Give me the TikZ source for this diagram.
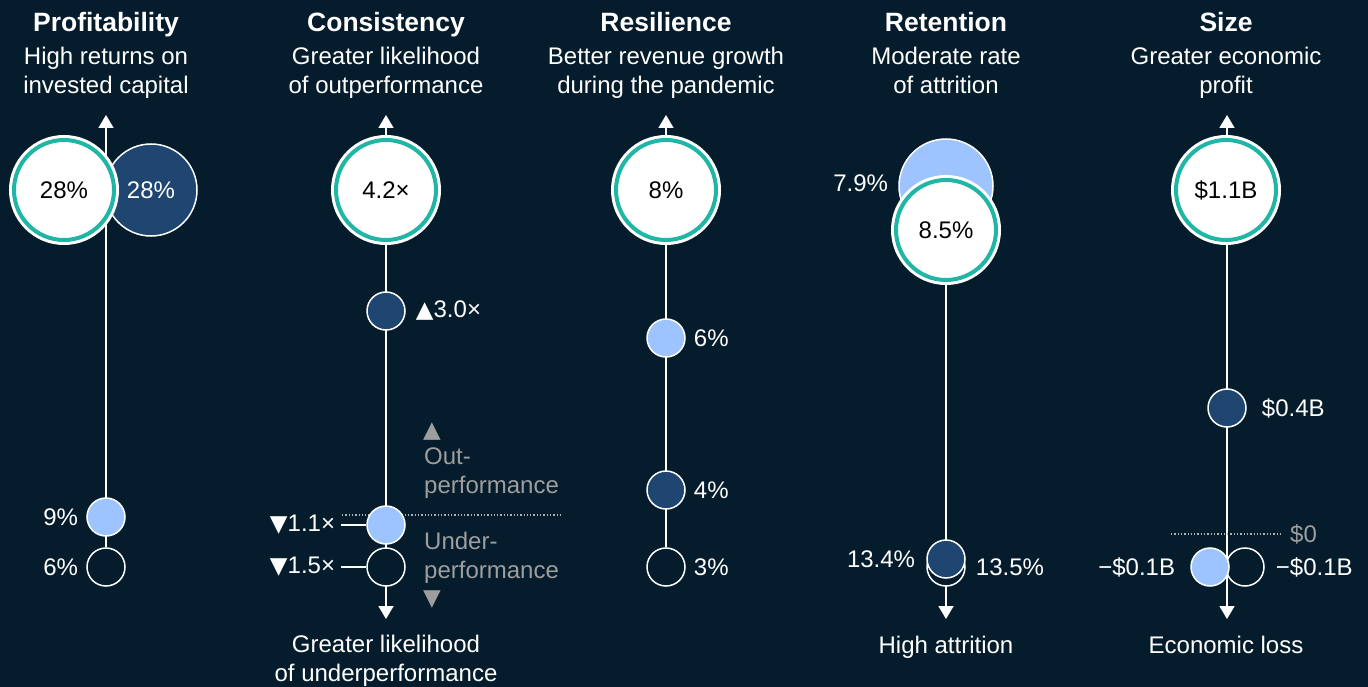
\documentclass[tikz,border=0pt]{standalone}
\usepackage{fontspec}
\setmainfont{Liberation Sans}
\newfontfamily\symfont{DejaVu Sans}
\usetikzlibrary{arrows.meta, positioning, backgrounds}

\definecolor{bgnavy}{HTML}{051C2C}
\definecolor{navyblue}{HTML}{1F4670}
\definecolor{skyblue}{HTML}{9DC4FE}
\definecolor{tealring}{HTML}{20B5A5}
\definecolor{notegray}{HTML}{9E9E9E}

\newcommand{\triup}{{\symfont\fontsize{23}{23}\selectfont ▲}}
\newcommand{\tridown}{{\symfont\fontsize{23}{23}\selectfont ▼}}

\begin{document}
\begin{tikzpicture}[
    x=1pt, y=-1pt,
    font=\fontsize{24}{29}\selectfont,
    every node/.style={text=white, inner sep=0pt},
    keydot/.style={circle, fill=white, draw=tealring, line width=4pt,
        minimum size=100pt, text=black,
        preaction={draw=white, line width=10pt}},
    bigdark/.style={circle, fill=navyblue, draw=white, line width=1.5pt, minimum size=92pt},
    biglight/.style={circle, fill=skyblue, draw=white, line width=1.5pt, minimum size=94pt},
    dark/.style={circle, fill=navyblue, draw=white, line width=1.5pt, minimum size=38pt},
    light/.style={circle, fill=skyblue, draw=white, line width=1.5pt, minimum size=38pt},
    hollow/.style={circle, fill=bgnavy, draw=white, line width=1.5pt, minimum size=38pt},
    axis/.style={draw=white, line width=1.6pt, -{Triangle[width=15pt, length=13pt]}},
    axisboth/.style={axis, {Triangle[width=15pt, length=13pt]}-{Triangle[width=15pt, length=13pt]}},
    tick/.style={draw=white, line width=1.5pt},
    zero/.style={draw=notegray!80!white, line width=1.3pt, dash pattern=on 1.3pt off 2pt},
    title/.style={font=\fontsize{26.5}{30}\selectfont\bfseries, anchor=base},
    sub/.style={align=center, anchor=north},
    note/.style={text=notegray, align=left, anchor=west}
]

\useasboundingbox (0,0) rectangle (1368,687);

% Headers
\node[title] (h1) at (106,32) {Profitability};
\node[title] (h2) at (386,32) {Consistency};
\node[title] (h3) at (666,32) {Resilience};
\node[title] (h4) at (946,32) {Retention};
\node[title] (h5) at (1226,32) {Size};

\node[sub] (s1) at (106,47) {High returns on\\invested capital};
\node[sub] (s2) at (386,47) {Greater likelihood\\of outperformance};
\node[sub] (s3) at (666,47) {Better revenue growth\\during the pandemic};
\node[sub] (s4) at (946,47) {Moderate rate\\of attrition};
\node[sub] (s5) at (1226,47) {Greater economic\\profit};

% Axis ends
\coordinate (p top) at (106,115);
\coordinate (c top) at (386,115);
\coordinate (c bot) at (386,619);
\coordinate (r top) at (666,115);
\coordinate (t bot) at (946,619);
\coordinate (s top) at (1227,115);
\coordinate (s bot) at (1227,619);

% Profitability
\node[bigdark] (p28b) at (151,190) {28\%};
\node[keydot] (p28a) at (64,190) {28\%};
\node[light] (p9) at (106,517) {};
\node[hollow] (p6) at (106,567) {};
\node (lp9) [left=8pt of p9] {9\%};
\node (lp6) [left=8pt of p6] {6\%};

% Consistency
\node[keydot] (c42) at (386,190) {4.2×};
\node[dark] (c30) at (386,311) {};
\node[hollow] (c15) at (386,567) {};
\node[light] (c11) at (386,525) {};
\node (lc30) [right=10pt of c30] {\triup3.0×};
\node (lc11) [left=31pt of c11] {\tridown1.1×};
\node (lc15) [left=31pt of c15] {\tridown1.5×};
\draw[tick] ([xshift=6pt]lc11.east) -- (c11.west);
\draw[tick] ([xshift=6pt]lc15.east) -- (c15.west);
\coordinate (cz left) at (342,515);
\coordinate (cz right) at (563,515);
\node[note, anchor=center, text=notegray] (cup) at (432,432) {\triup};
\node[note] (cout) at (424,473) {Out-\\performance};
\node[note] (cunder) at (424,558) {Under-\\performance};
\node[note, anchor=center, text=notegray] (cdown) at (432,600) {\tridown};
\node[sub] (b2) at (386,635) {Greater likelihood\\of underperformance};

% Resilience
\node[keydot] (r8) at (666,190) {8\%};
\node[light] (r6) at (666,338) {};
\node[dark] (r4) at (666,490) {};
\node[hollow] (r3) at (666,567) {};
\node (lr6) [right=8pt of r6] {6\%};
\node (lr4) [right=8pt of r4] {4\%};
\node (lr3) [right=8pt of r3] {3\%};

% Retention
\node[biglight] (t79) at (946,186) {};
\node[keydot] (t85) at (946,230) {8.5\%};
\node[hollow] (t135) at (946,567) {};
\node[dark] (t134) at (946,559) {};
\node (lt79) [left=10pt of t79, yshift=3pt] {7.9\%};
\node (lt134) [left=11pt of t134] {13.4\%};
\node (lt135) [right=10pt of t135] {13.5\%};
\node[anchor=base] (b4) at (946,653) {High attrition};

% Size
\node[keydot] (s11) at (1226,190) {\$1.1B};
\node[dark] (s04) at (1227,408) {};
\node[hollow] (s01b) at (1245,567) {};
\node[light] (s01a) at (1210,567) {};
\node (ls04) [right=15pt of s04] {\$0.4B};
\node (ls01a) [left=15pt of s01a] {−\$0.1B};
\node (ls01b) [right=11pt of s01b] {−\$0.1B};
\coordinate (sz left) at (1171,534);
\coordinate (sz right) at (1283,534);
\node[note] (ls0) [right=7pt of sz right] {\$0};
\node[anchor=base] (b5) at (1226,653) {Economic loss};

% Axes and zero lines behind the dots
\begin{scope}[on background layer]
\fill[bgnavy] (0,0) rectangle (1368,687);
\draw[axis] (p6) -- (p top);
\draw[axisboth] (c bot) -- (c top);
\draw[axis] (r3) -- (r top);
\draw[axis] (t85) -- (t bot);
\draw[axisboth] (s bot) -- (s top);
\draw[zero] (cz left) -- (cz right);
\draw[zero] (sz left) -- (sz right);
\end{scope}

\end{tikzpicture}
\end{document}
